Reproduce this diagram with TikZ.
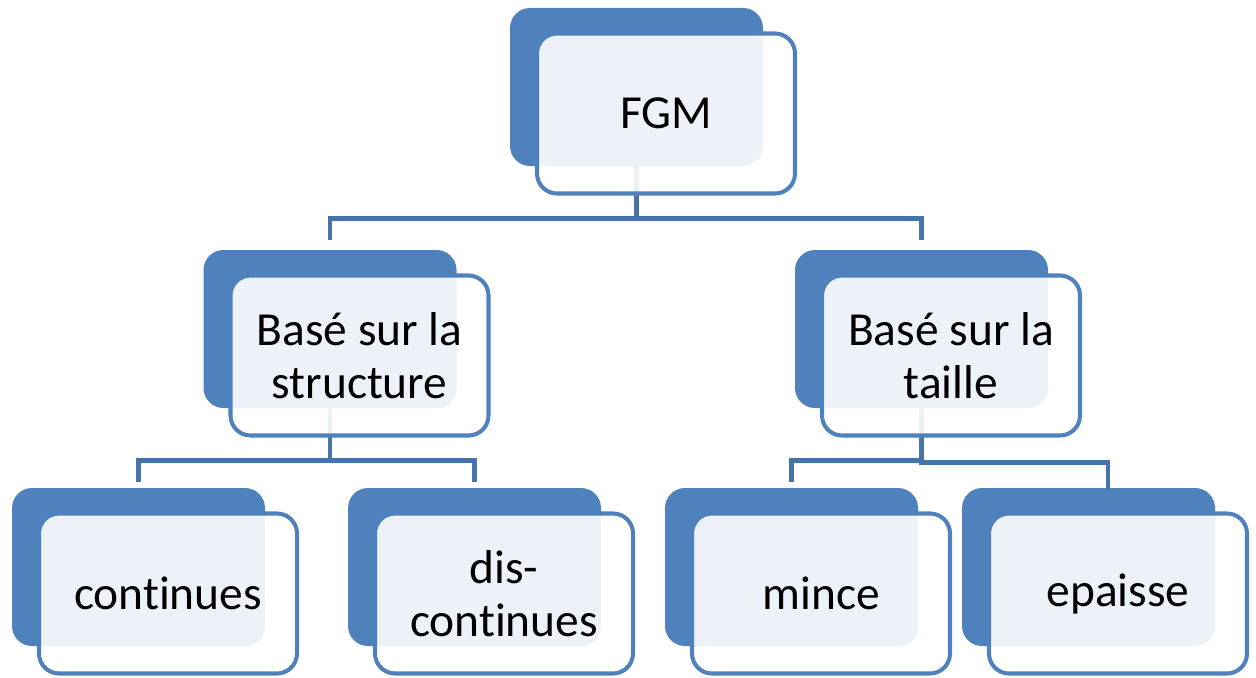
\documentclass[tikz,border=0pt]{standalone}
\usepackage{fontspec}
\setmainfont{Carlito}[Ligatures=NoCommon]
\usetikzlibrary{positioning}
\definecolor{boxblue}{HTML}{4F81BD}
\definecolor{linkblue}{HTML}{4673AA}

\begin{document}
\begin{tikzpicture}[
  back/.style={
    rectangle, rounded corners=0.4cm, fill=boxblue, draw=none,
    minimum width=5.06cm, minimum height=3.16cm
  },
  front/.style={
    rectangle, rounded corners=0.4cm, draw=boxblue, line width=2.3pt,
    fill=white, fill opacity=0.9, text opacity=1,
    minimum width=5.16cm, minimum height=3.2cm, align=center,
    font=\fontsize{27}{30}\selectfont
  },
  link/.style={linkblue, line width=2.6pt},
]
\useasboundingbox (0,0) rectangle (25.12,-13.54);

% back boxes
\node[back] (fgmb)  at (12.73,-1.74)  {};
\node[back] (strb)  at (6.60,-6.58)   {};
\node[back] (taib)  at (18.43,-6.58)  {};
\node[back] (contb) at (2.77,-11.34)  {};
\node[back] (discb) at (9.49,-11.34)  {};
\node[back] (minb)  at (15.83,-11.34) {};
\node[back] (epab)  at (21.77,-11.34) {};

% connectors
\draw[link, shorten >=0.2cm] (fgmb.south) -- ++(0,-1.04) -| (strb.north);
\draw[link, shorten >=0.2cm] (fgmb.south) -- ++(0,-1.04) -| (taib.north);
\draw[link, shorten >=0.12cm] (strb.south) -- ++(0,-1.04) -| (contb.north);
\draw[link, shorten >=0.12cm] (strb.south) -- ++(0,-1.04) -| (discb.north);
\draw[link, shorten >=0.12cm] (taib.south) -- ++(0,-1.04) -| (minb.north);
\draw[link] (taib.south) -- ++(0,-1.08) -| ([xshift=0.39cm,yshift=-0.04cm]epab.north);

% front boxes
\node[front] (fgm)  at ([shift={(0.59,-0.53)}]fgmb.center)  {FGM};
\node[front] (str)  at ([shift={(0.59,-0.53)}]strb.center)  {Basé sur la\\structure};
\node[front] (tai)  at ([shift={(0.59,-0.53)}]taib.center)  {Basé sur la\\taille};
\node[front] (cont) at ([shift={(0.59,-0.53)}]contb.center) {continues};
\node[front] (disc) at ([shift={(0.59,-0.53)}]discb.center) {dis-\\continues};
\node[front] (min)  at ([shift={(0.59,-0.53)}]minb.center)  {mince};
\node[front] (epa)  at ([shift={(0.59,-0.53)}]epab.center)  {epaisse};

\end{tikzpicture}
\end{document}
